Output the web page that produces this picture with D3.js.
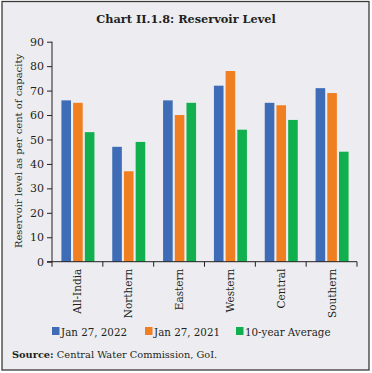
<!DOCTYPE html>
<html>
<head>
<meta charset="utf-8">
<script src="https://cdn.jsdelivr.net/npm/d3@7"></script>
<style>
  html, body { margin: 0; padding: 0; background: #fff; }
  svg { display: block; }
  text { font-family: "DejaVu Serif", "Liberation Serif", serif; fill: #231f20; }
</style>
</head>
<body>
<div id="chart"></div>
<script>
(function() {
  var categories, seriesNames, colors, jan2022, jan2021, tenYear, yTicks, series;
  var width, height, margin, svg, x, xSub, y, g, xAxis, yAxis, legend;

  categories = ['All-India', 'Northern', 'Eastern', 'Western', 'Central', 'Southern'];
  seriesNames = ['Jan 27, 2022', 'Jan 27, 2021', '10-year Average'];
  jan2022 = [66, 47, 66, 72, 65, 71];
  jan2021 = [65, 37, 60, 78, 64, 69];
  tenYear = [53, 49, 65, 54, 58, 45];
  yTicks = [0, 10, 20, 30, 40, 50, 60, 70, 80, 90];
  colors = ['#3e6cb6', '#f07f22', '#10b04f'];

  series = [jan2022, jan2021, tenYear];

  width = 372;
  height = 373;
  margin = { left: 52, right: 15, top: 41.7, bottom: 111.3 };

  svg = d3.select('#chart').append('svg').attr('width', width).attr('height', height);

  // panel background + frame
  svg.append('rect').attr('x', 2).attr('y', 1.5).attr('width', 367).attr('height', 368.5)
    .attr('fill', '#ededf1').attr('stroke', '#3a3a3a').attr('stroke-width', 1.3);

  svg.append('text').attr('x', 186).attr('y', 23).attr('text-anchor', 'middle')
    .attr('font-size', '11.3px').attr('font-weight', 'bold').text('Chart II.1.8: Reservoir Level');

  x = d3.scaleBand().domain(categories).range([margin.left, width - margin.right]).paddingInner(0);
  y = d3.scaleLinear().domain([0, 90]).range([height - margin.bottom, margin.top]);
  xSub = d3.scaleBand().domain(d3.range(seriesNames.length)).range([0, 33]).paddingInner(0.18);

  g = svg.append('g');

  // bars
  categories.forEach(function(c, i) {
    var off = x(c) + (x.bandwidth() - 33) / 2 + 0.5;
    series.forEach(function(s, k) {
      g.append('rect')
        .attr('x', off + xSub(k))
        .attr('y', y(s[i]))
        .attr('width', xSub.bandwidth())
        .attr('height', y(0) - y(s[i]))
        .attr('fill', colors[k]);
    });
  });

  // y axis
  yAxis = svg.append('g').attr('transform', 'translate(' + margin.left + ',0)')
    .call(d3.axisLeft(y).tickValues(yTicks).tickSize(5).tickPadding(3));
  yAxis.select('.domain').attr('stroke', '#231f20').attr('d', 'M0,' + y(90) + 'V' + y(0));
  yAxis.selectAll('.tick line').attr('stroke', '#231f20');
  yAxis.selectAll('.tick text').attr('font-size', '11px').attr('fill', '#231f20')
    .style('font-family', '"DejaVu Serif", serif');

  // x axis with ticks at band boundaries
  xAxis = svg.append('g').attr('transform', 'translate(0,' + y(0) + ')');
  xAxis.append('line').attr('x1', margin.left - 5).attr('x2', width - margin.right)
    .attr('y1', 0).attr('y2', 0).attr('stroke', '#231f20');
  categories.concat(['end']).forEach(function(c, i) {
    var xp = margin.left + i * x.bandwidth();
    xAxis.append('line').attr('x1', xp).attr('x2', xp).attr('y1', 0).attr('y2', 5).attr('stroke', '#231f20');
  });
  xAxis.selectAll('text.cat').data(categories).enter().append('text')
    .attr('class', 'cat')
    .attr('transform', function(d) {
      return 'translate(' + (x(d) + x.bandwidth() / 2 + 4) + ',7) rotate(-90)';
    })
    .attr('text-anchor', 'end')
    .attr('font-size', '10.5px')
    .text(function(d) { return d; });

  // y title
  svg.append('text')
    .attr('transform', 'translate(22,' + 151 + ') rotate(-90)')
    .attr('text-anchor', 'middle').attr('font-size', '10px')
    .text('Reservoir level as per cent of capacity');

  // legend
  legend = svg.append('g').attr('transform', 'translate(52,333)');
  var lx = [0, 93, 184];
  seriesNames.forEach(function(n, k) {
    legend.append('rect').attr('x', lx[k]).attr('y', -6).attr('width', 7.5).attr('height', 8).attr('fill', colors[k]);
    legend.append('text').attr('x', lx[k] + 9).attr('y', 2.5).attr('font-size', '10.3px').text(n);
  });

  var src = svg.append('text').attr('x', 12).attr('y', 358).attr('font-size', '9.8px');
  src.append('tspan').attr('font-weight', 'bold').text('Source:');
  src.append('tspan').text(' Central Water Commission, GoI.');
})();
</script>
</body>
</html>
